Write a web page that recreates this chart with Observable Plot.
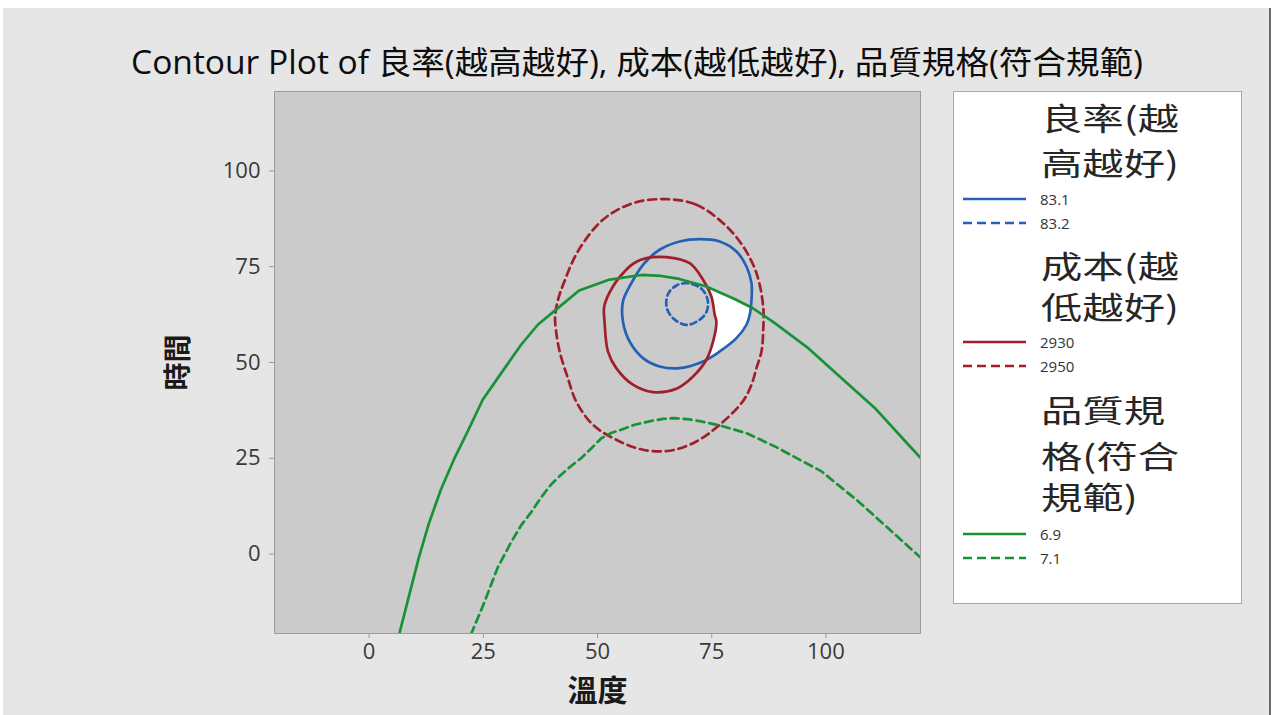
<!DOCTYPE html>
<html>
<head>
<meta charset="utf-8">
<script src="https://cdn.jsdelivr.net/npm/d3@7"></script>
<script src="https://cdn.jsdelivr.net/npm/@observablehq/plot@0.6"></script>
<style>
  html, body { margin: 0; padding: 0; background: #ffffff; }
  #page { position: relative; width: 1276px; height: 715px; overflow: hidden; background: #ffffff; }
  #bg { position: absolute; left: 3px; top: 8px; width: 1266px; height: 707px; background: #e6e6e6; border-right: 2px solid #6a6a6a; }
  #chart { position: absolute; left: 0; top: 0; }
  #title { position: absolute; left: 131px; top: 42px; white-space: nowrap; transform-origin: 0 0;
           font-family: "Open Sans", "Noto Sans CJK TC", sans-serif; font-size: 32px; line-height: 40px; color: #0d0d0d; }
  #legend { position: absolute; left: 953px; top: 91px; width: 289px; height: 513px; background: #ffffff;
            border: 1px solid #a8a8a8; box-sizing: border-box; font-family: "Open Sans", "Noto Sans CJK TC", sans-serif; color: #2a2a2a; }
  .lg-title { position: absolute; left: 87px; font-family: "Noto Sans CJK TC", sans-serif; font-size: 31px; line-height: 31px;
              white-space: nowrap; color: #262626; transform-origin: 0 50%; }
  .lg-item { position: absolute; left: 8px; height: 20px; }
  .lg-item svg { position: absolute; left: 0; top: 0; }
  .lg-item span { position: absolute; left: 78px; top: 0; font-size: 15px; line-height: 20px; color: #333; white-space: nowrap; }
</style>
</head>
<body>
<div id="page">
  <div id="bg"></div>
  <div id="chart"></div>
  <div id="title"></div>
  <div id="legend"></div>
</div>
<script>
// ---------------- data ----------------
const titleText = "Contour Plot of 良率(越高越好), 成本(越低越好), 品質規格(符合規範)";
const xLabel = "溫度";
const yLabel = "時間";
const xTicks = [0, 25, 50, 75, 100];
const yTicks = [0, 25, 50, 75, 100];
const axisMin = -20.71;
const axisMax = 120.71;

// 良率(越高越好) contours
const yield831 = [
  [72.37, 82.18], [76.75, 81.58], [80.42, 78.97], [82.61, 75.06], [83.71, 70.70], [83.71, 66.37],
  [83.33, 62.46], [82.61, 59.85], [80.42, 56.35], [76.75, 52.88], [73.11, 50.27], [67.98, 48.53],
  [63.60, 48.97], [59.96, 51.13], [57.02, 55.49], [55.57, 60.71], [55.57, 65.93], [57.02, 69.84],
  [59.96, 75.50], [63.60, 79.42], [67.98, 81.58]
];
const yield832 = [
  [69.7, 70.7], [72.7, 69.3], [74.1, 66.4], [73.9, 63.3], [72.4, 61.2], [69.5, 59.8],
  [66.5, 61.6], [65.1, 64.6], [65.5, 68.0], [67.3, 70.1]
];

// 成本(越低越好) contours
const cost2930 = [
  [60.68, 77.22], [65.07, 77.49], [70.18, 75.92], [73.11, 71.59], [74.93, 67.23], [75.66, 62.46],
  [76.03, 60.71], [75.31, 55.49], [73.84, 50.72], [70.92, 46.36], [67.26, 43.15], [62.15, 42.26],
  [57.76, 44.20], [54.10, 48.53], [52.28, 52.88], [51.54, 60.71], [51.47, 64.62], [53.38, 69.84],
  [56.29, 74.20], [58.05, 75.97]
];
const cost2950 = [
  [65.07, 92.62], [71.64, 91.16], [77.50, 86.36], [81.89, 80.28], [84.80, 73.31], [86.27, 64.62],
  [86.27, 58.10], [85.90, 52.88], [84.80, 48.53], [83.71, 44.20], [81.80, 39.84], [76.75, 33.76],
  [71.64, 29.40], [65.79, 26.98], [59.96, 27.24], [54.10, 29.85], [48.99, 33.76], [45.33, 39.84],
  [43.51, 45.92], [41.71, 52.88], [40.94, 58.10], [40.72, 62.01], [41.38, 66.45], [42.41, 70.10],
  [45.70, 78.97], [51.18, 87.24], [57.76, 91.57]
];

// 品質規格(符合規範) contours
const quality69 = [
  [6.58, -20.95], [8.71, -11.04], [10.90, -0.86], [13.09, 8.01], [15.72, 16.88], [18.57, 24.71],
  [21.58, 32.01], [24.87, 40.28], [28.16, 45.92], [33.27, 54.63], [36.93, 59.85], [41.32, 64.18],
  [45.99, 68.80], [52.35, 71.54], [59.58, 72.84], [63.97, 72.58], [67.92, 71.80], [73.84, 69.84],
  [79.76, 66.71], [83.71, 64.37], [86.34, 62.28], [88.82, 60.27], [96.14, 53.74], [103.44, 45.92],
  [110.75, 38.09], [118.07, 28.54], [121.42, 24.19]
];
const quality71 = [
  [22.30, -20.95], [25.22, -12.60], [28.16, -3.47], [31.07, 3.05], [33.27, 7.49], [35.46, 10.88],
  [37.65, 14.79], [39.85, 18.18], [42.04, 20.71], [44.23, 23.01], [46.43, 25.05], [48.62, 27.58],
  [50.81, 30.19], [53.00, 31.62], [55.20, 32.46], [58.11, 33.76], [61.78, 34.75], [64.34, 35.27],
  [66.89, 35.48], [70.18, 35.14], [72.74, 34.62], [76.75, 33.58], [82.61, 31.57], [88.82, 28.10],
  [99.06, 21.58], [107.11, 13.75], [114.41, 5.92], [121.42, -1.64]
];

// feasible (white) region where all three responses meet their limits
const feasibleRegion = [
  [73.84, 69.84], [79.76, 66.71], [83.50, 64.40], [83.33, 62.46], [82.61, 59.85], [80.42, 56.35],
  [76.75, 52.88], [73.84, 50.64], [75.31, 55.49], [76.03, 60.71], [75.66, 62.46], [74.93, 67.23]
];

// legend groups
const legendGroups = [
  { titleLines: ["良率(越", "高越好)"], levels: ["83.1", "83.2"] },
  { titleLines: ["成本(越", "低越好)"], levels: ["2930", "2950"] },
  { titleLines: ["品質規", "格(符合", "規範)"], levels: ["6.9", "7.1"] }
];

// ---------------- styles ----------------
const BLUE = "#2461b6";
const RED = "#a11f2a";
const GREEN = "#189237";
const DASH = "8,5";
const groupColors = [BLUE, RED, GREEN];

const contours = [
  { data: yield831, stroke: BLUE, dash: null, closed: true },
  { data: yield832, stroke: BLUE, dash: "6,4", closed: true },
  { data: cost2930, stroke: RED, dash: null, closed: true },
  { data: cost2950, stroke: RED, dash: DASH, closed: true },
  { data: quality69, stroke: GREEN, dash: null, closed: false },
  { data: quality71, stroke: GREEN, dash: DASH, closed: false }
];

const FONT = '"Open Sans", "Noto Sans CJK TC", sans-serif';
const CJK = '"Noto Sans CJK TC", sans-serif';

const chart = Plot.plot({
  width: 1276,
  height: 715,
  marginLeft: 274,
  marginRight: 356,
  marginTop: 91,
  marginBottom: 82,
  style: { background: "transparent", fontFamily: FONT, overflow: "visible" },
  x: { domain: [axisMin, axisMax] },
  y: { domain: [axisMin, axisMax] },
  marks: [
    Plot.frame({ fill: "#cbcbcb", stroke: "none" }),
    Plot.line(feasibleRegion, { x: d => d[0], y: d => d[1], fill: "#ffffff", stroke: "none", curve: "linear-closed", clip: true }),
    ...contours.map(c => Plot.line(c.data, {
      x: d => d[0], y: d => d[1],
      stroke: c.stroke, strokeWidth: 2.7, strokeDasharray: c.dash,
      curve: c.closed ? "catmull-rom-closed" : "linear", clip: true
    })),
    Plot.frame({ stroke: "#9c9c9c", strokeWidth: 1 }),
    Plot.axisX({ ticks: xTicks, tickSize: 5, tickPadding: 5, fontSize: 22, fill: "#3a3a3a", stroke: "#9a9a9a", label: null }),
    Plot.axisY({ ticks: yTicks, tickSize: 5, tickPadding: 9, fontSize: 22, fill: "#3a3a3a", stroke: "#9a9a9a", label: null }),
    Plot.text([xLabel], { frameAnchor: "bottom", dy: 67, lineAnchor: "bottom", textAnchor: "middle", fontSize: 30, fontWeight: "bold", fill: "#1a1a1a", fontFamily: CJK }),
    Plot.text([yLabel], { frameAnchor: "left", dx: -106, rotate: -90, lineAnchor: "top", textAnchor: "middle", fontSize: 28, fontWeight: "bold", fill: "#1a1a1a", fontFamily: CJK })
  ]
});
document.getElementById("chart").appendChild(chart);

// title: fit to the reference extent (x 131 → 1143)
const titleEl = document.getElementById("title");
titleEl.textContent = titleText;
{
  const w = titleEl.getBoundingClientRect().width;
  titleEl.style.transform = `scaleX(${(1012 / w).toFixed(4)})`;
}

// ---------------- legend ----------------
const legend = document.getElementById("legend");
// vertical centres (relative to legend box) of title lines and entries
const titleCentres = [[24, 69], [172, 213], [316, 362, 403]];
const itemCentres = [[107, 131], [250, 274], [442, 466]];
const titleEls = [];
legendGroups.forEach((g, gi) => {
  g.titleLines.forEach((t, li) => {
    const el = document.createElement("div");
    el.className = "lg-title";
    el.style.top = (titleCentres[gi][li] - 15.5) + "px";
    el.textContent = t;
    legend.appendChild(el);
    titleEls.push(el);
  });
  g.levels.forEach((lv, li) => {
    const item = document.createElement("div");
    item.className = "lg-item";
    item.style.top = (itemCentres[gi][li] - 10) + "px";
    const dash = li === 1 ? ' stroke-dasharray="9,5"' : "";
    item.innerHTML = `<svg width="70" height="20"><line x1="1" y1="10" x2="64" y2="10" stroke="${groupColors[gi]}" stroke-width="2.6"${dash}/></svg><span>${lv}</span>`;
    legend.appendChild(item);
  });
});
// legend titles in the reference are wider than the font: first line spans 140px
{
  const w0 = titleEls[0].getBoundingClientRect().width;
  const k = 138 / w0;
  titleEls.forEach(el => { el.style.transform = `scaleX(${k.toFixed(4)})`; });
}
</script>
</body>
</html>
